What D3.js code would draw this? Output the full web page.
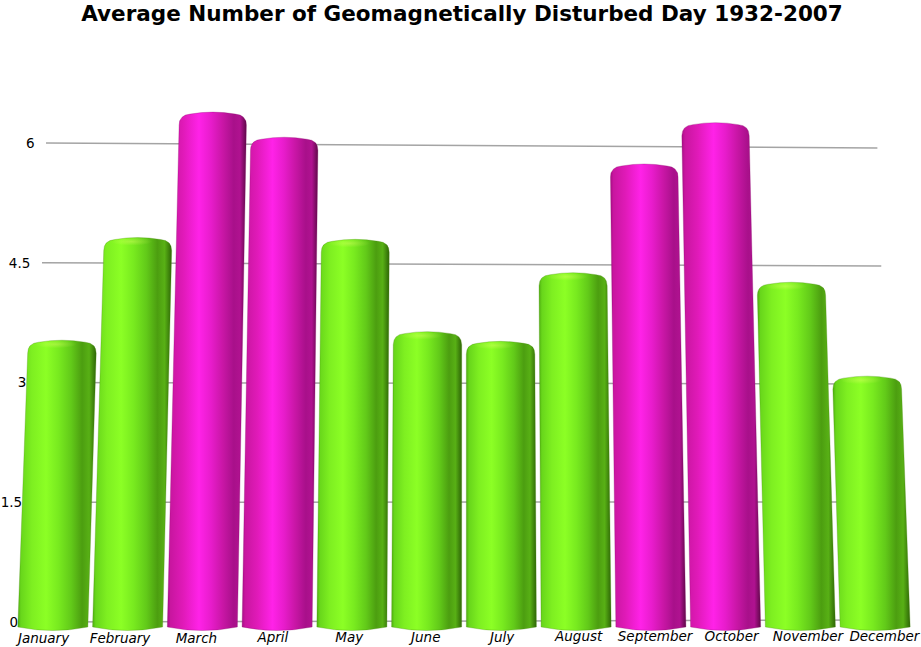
<!DOCTYPE html>
<html>
<head>
<meta charset="utf-8">
<script src="https://cdn.jsdelivr.net/npm/d3@7"></script>
<style>
  body { margin: 0; background: #fff; }
  svg { display: block; }
</style>
</head>
<body>
<div id="chart"></div>
<script>
const width = 921;
const height = 647;

// données
const months = ["January", "February", "March", "April", "May", "June",
                "July", "August", "September", "October", "November", "December"];
const disturbedDays = [3.53, 4.82, 6.40, 6.09, 4.81, 3.65, 3.53, 4.40, 5.78, 6.31, 4.29, 3.10];
const highlighted = ["March", "April", "September", "October"];
const tickValues = [0, 1.5, 3, 4.5, 6];
const tickLabels = ["0", "1.5", "3", "4.5", "6"];

// perspective légère : point de fuite très haut au centre
const cx = 465, ground = 622, depth = 13000;
const persp = (xb, y) => cx + (xb - cx) * (1 - (ground - y) / depth);

// échelles gauche / droite (les lignes de grille sont un peu inclinées)
const yLeft = d3.scaleLinear().domain([0, 6]).range([622, 143]);
const yRight = d3.scaleLinear().domain([0, 6]).range([620, 148]);
const gridX = d3.scaleLinear().domain([46, 877]).range([0, 1]).clamp(true);
const yAt = (v, x) => { const t = gridX(x); return yLeft(v) + (yRight(v) - yLeft(v)) * t; };

const x = d3.scaleBand()
    .domain(months)
    .range([18, 910])
    .paddingInner(0.063)
    .paddingOuter(0);

const svg = d3.select("#chart").append("svg")
    .attr("width", width)
    .attr("height", height);

const defs = svg.append("defs");

function cylGradient(id, stops) {
    const g = defs.append("linearGradient").attr("id", id)
        .attr("x1", "0%").attr("x2", "100%").attr("y1", "0%").attr("y2", "0%");
    stops.forEach(s => g.append("stop").attr("offset", s[0]).attr("stop-color", s[1]));
}
cylGradient("green", [
    ["0%", "#4fae10"], ["4%", "#68d61b"], ["18%", "#7eef21"], ["36%", "#8cff25"],
    ["52%", "#78ea1f"], ["68%", "#62ca19"], ["82%", "#4c9e10"], ["91%", "#58b015"], ["100%", "#2e6606"]
]);
cylGradient("magenta", [
    ["0%", "#a80e86"], ["4%", "#c8169f"], ["20%", "#e01ab8"], ["40%", "#ff22e8"],
    ["55%", "#e81ccc"], ["70%", "#c916a6"], ["84%", "#a8108a"], ["92%", "#b01290"], ["100%", "#5e0848"]
]);

const capGrad = defs.append("radialGradient").attr("id", "cap");
capGrad.append("stop").attr("offset", "0%").attr("stop-color", "#ffff80").attr("stop-opacity", 0.3);
capGrad.append("stop").attr("offset", "100%").attr("stop-color", "#ffff80").attr("stop-opacity", 0);

// titre
svg.append("text")
    .attr("x", 462)
    .attr("y", 21)
    .attr("text-anchor", "middle")
    .style("font-family", "'DejaVu Sans', Verdana, sans-serif")
    .style("font-weight", "bold")
    .style("font-size", "21.5px")
    .text("Average Number of Geomagnetically Disturbed Day 1932-2007");

// lignes de grille
svg.append("g").selectAll("line")
    .data(tickValues)
    .enter().append("line")
    .attr("x1", d => persp(30, yLeft(d)))
    .attr("y1", d => yLeft(d))
    .attr("x2", d => persp(893, yRight(d)))
    .attr("y2", d => yRight(d))
    .attr("stroke", "#a4a4a4")
    .attr("stroke-width", 1.5);

// étiquettes de l'axe
svg.append("g").selectAll("text")
    .data(tickValues)
    .enter().append("text")
    .attr("x", d => persp(18, yLeft(d)))
    .attr("y", d => yLeft(d))
    .attr("dy", "0.36em")
    .attr("text-anchor", "end")
    .style("font-family", "'DejaVu Sans', Verdana, sans-serif")
    .style("font-size", "13.5px")
    .text((d, i) => tickLabels[i]);

const data = months.map((m, i) => ({ month: m, value: disturbedDays[i] }));

// cylindres
const bars = svg.append("g").selectAll("g")
    .data(data)
    .enter().append("g");

function cylinderPath(d) {
    const xl = x(d.month), xr = x(d.month) + x.bandwidth();
    const xm = (xl + xr) / 2;
    const top = yAt(d.value, xm);
    const yb = 627;
    const xlb = persp(xl, yb), xrb = persp(xr, yb);
    const xlt = persp(xl, top), xrt = persp(xr, top);
    const xmt = (xlt + xrt) / 2, xmb = (xlb + xrb) / 2;
    return "M" + xlb + "," + yb +
        "Q" + xmb + "," + (yb + 7) + " " + xrb + "," + yb +
        "L" + xrt + "," + (top + 13) +
        "Q" + xrt + "," + (top + 3) + " " + (xrt - 11) + "," + (top + 2) +
        "Q" + xmt + "," + (top - 2) + " " + (xlt + 11) + "," + (top + 2) +
        "Q" + xlt + "," + (top + 3) + " " + xlt + "," + (top + 13) +
        "Z";
}

bars.append("path")
    .attr("d", cylinderPath)
    .attr("fill", d => highlighted.includes(d.month) ? "url(#magenta)" : "url(#green)")
    .attr("stroke", d => highlighted.includes(d.month) ? "#8a0a6c" : "#4a8a10")
    .attr("stroke-width", 0.3);

bars.filter(d => !highlighted.includes(d.month)).append("ellipse")
    .attr("cx", d => persp(x(d.month) + x.bandwidth() / 2, yAt(d.value, x(d.month))) - 6)
    .attr("cy", d => yAt(d.value, x(d.month) + x.bandwidth() / 2) + 4)
    .attr("rx", x.bandwidth() / 2 - 14)
    .attr("ry", 4)
    .attr("fill", "url(#cap)");

// étiquettes des mois
svg.append("g").selectAll("text")
    .data(months)
    .enter().append("text")
    .attr("x", d => cx + (x(d) + x.bandwidth() / 2 - cx) * 1.023)
    .attr("y", d => 643 - 2.5 * gridX(x(d) + x.bandwidth() / 2))
    .attr("text-anchor", "middle")
    .style("font-family", "'DejaVu Sans', Verdana, sans-serif")
    .style("font-style", "italic")
    .style("font-size", "13.5px")
    .text(d => d);
</script>
</body>
</html>
